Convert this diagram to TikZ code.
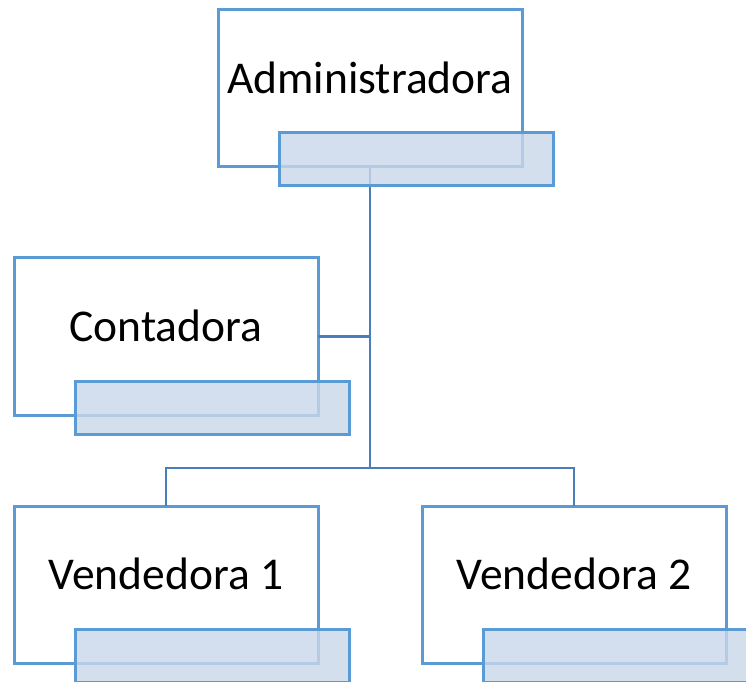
\documentclass[tikz,border=0pt]{standalone}
\usepackage{fontspec}
\setmainfont{Carlito}
\usetikzlibrary{calc}
\definecolor{boxline}{RGB}{91,155,213}
\definecolor{linkline}{RGB}{74,126,187}
\definecolor{tabfill}{RGB}{201,215,234}

\begin{document}
\begin{tikzpicture}[x=1pt, y=1pt]
            \tikzset{post/.style = {draw=boxline, line width=3pt, fill=white, minimum width=304pt, minimum height=157pt, inner sep=0pt, outer sep=0pt}}
            \tikzset{tab/.style = {draw=boxline, line width=3pt, fill=tabfill, fill opacity=0.8, minimum width=274pt, minimum height=53pt, inner sep=0pt, outer sep=0pt, anchor=north west}}
            \tikzset{posttext/.style = {font=\fontsize{45.5}{52}\selectfont, inner sep=0pt}}
            \tikzset{link/.style = {draw=linkline, line width=2.6pt}}
            \clip (0, 0) rectangle (746, 681);
            \node[post] (admin) at (370, 592.5) {};
            \node[post] (contadora) at (166, 344.5) {};
            \node[post] (vend1) at (166, 96.5) {};
            \node[post] (vend2) at (574, 96.5) {};
            \node[posttext] (admintxt) at ([yshift=11pt]admin.center) {Administradora};
            \node[posttext] (contadoratxt) at ([yshift=11pt]contadora.center) {Contadora};
            \node[posttext] (vend1txt) at ([yshift=11pt]vend1.center) {Vendedora 1};
            \node[posttext] (vend2txt) at ([yshift=11pt]vend2.center) {Vendedora 2};
            \coordinate (split) at (admin.south |- 0, 213);
            \draw[link] (admin.south) -- (split);
            \draw[link] (contadora.east) -- (contadora.east -| split);
            \draw[link] (vend1.north) |- (split) -| (vend2.north);
            \node[tab] (admintab) at ([shift={(61, 34)}]admin.south west) {};
            \node[tab] (contadoratab) at ([shift={(61, 34)}]contadora.south west) {};
            \node[tab] (vend1tab) at ([shift={(61, 34)}]vend1.south west) {};
            \node[tab] (vend2tab) at ([shift={(61, 34)}]vend2.south west) {};
        \end{tikzpicture}
\end{document}
